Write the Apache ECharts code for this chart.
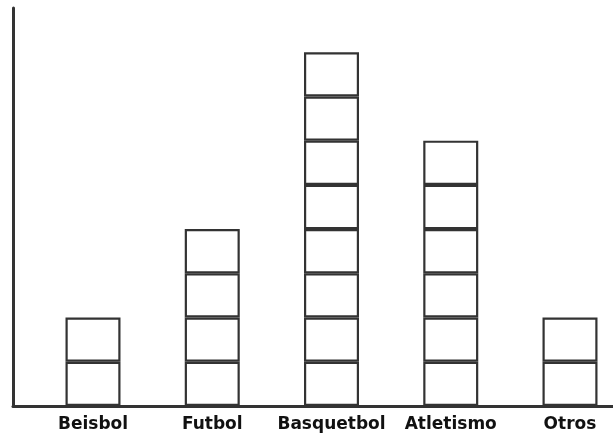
<!DOCTYPE html>
<html><head><meta charset="utf-8">
<script src="https://cdn.jsdelivr.net/npm/echarts@6/dist/echarts.min.js"></script>
<style>html,body{margin:0;padding:0;background:#fff}#c{width:613px;height:436px}</style>
</head><body><div id="c"></div>
<script>
const categories = ['Beisbol', 'Futbol', 'Basquetbol', 'Atletismo', 'Otros'];
const counts = [2, 4, 8, 6, 2];
const yMax = 9;

const levels = Math.max(...counts);
const series = [];
for (let k = 1; k <= levels; k++) {
  series.push({
    type: 'bar', stack: 'boxes', xAxisIndex: 0, yAxisIndex: 0,
    barWidth: 55, silent: true, clip: false,
    data: counts.map(c => (c >= k ? 1 : '-')),
    itemStyle: { color: '#ffffff', borderColor: '#333333', borderWidth: 2.2 }
  });
}

const chart = echarts.init(document.getElementById('c'), null, { renderer: 'canvas' });
chart.setOption({
  animation: false,
  backgroundColor: '#ffffff',
  grid: [
    { left: 93, top: 8, width: 477, bottom: 30 },
    { left: 13, top: 8, width: 600, bottom: 30 }
  ],
  xAxis: [
    { type: 'category', gridIndex: 0, data: categories, boundaryGap: false,
      axisLine: { show: false }, axisTick: { show: false }, splitLine: { show: false },
      axisLabel: { interval: 0, margin: 10, color: '#111', fontFamily: 'DejaVu Sans', fontWeight: 'bold', fontSize: 17 } },
    { type: 'value', gridIndex: 1, min: 0, max: 1,
      axisLine: { show: true, lineStyle: { color: '#333', width: 3 } },
      axisTick: { show: false }, axisLabel: { show: false }, splitLine: { show: false } }
  ],
  yAxis: [
    { type: 'value', gridIndex: 0, min: 0, max: yMax,
      axisLine: { show: false }, axisTick: { show: false }, axisLabel: { show: false }, splitLine: { show: false } },
    { type: 'value', gridIndex: 1, min: 0, max: yMax,
      axisLine: { show: true, lineStyle: { color: '#333', width: 3 } },
      axisTick: { show: false }, axisLabel: { show: false }, splitLine: { show: false } }
  ],
  series: series
});
</script>
</body></html>
